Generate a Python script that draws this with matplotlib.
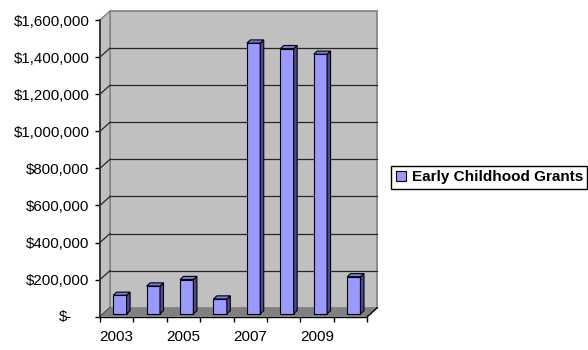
import matplotlib
matplotlib.use("Agg")
import matplotlib.pyplot as plt
import matplotlib.transforms as mtransforms
from matplotlib.patches import Polygon, Rectangle, Patch
from matplotlib.lines import Line2D

# ---- data ----
years = [2003, 2004, 2005, 2006, 2007, 2008, 2009, 2010]
grants = [100000, 150000, 185000, 80000, 1460000, 1430000, 1400000, 200000]
series_name = "Early Childhood Grants"
value_ticks = [0, 200000, 400000, 600000, 800000, 1000000, 1200000, 1400000, 1600000]
labelled_years = ["2003", "2005", "2007", "2009"]

plt.rcParams['font.family'] = ['Liberation Sans', 'DejaVu Sans']

FRONT = '#9999FF'
SIDE = '#4C4C8C'
TOP = '#7A7AD6'
WALL = '#C0C0C0'
FLOOR = '#808080'

W, H = 588, 350
fig = plt.figure(figsize=(W / 100, H / 100), dpi=100)
fig.patch.set_facecolor('white')
ax = fig.add_axes([100 / W, 1 - 316.7 / H, 267.3 / W, 296.7 / H])
ymax = value_ticks[-1]
n = len(years)
ax.set_xlim(-0.5, n - 0.5)
ax.set_ylim(0, ymax)
ax.patch.set_visible(False)

# depth of the 3-D box, expressed in data units (10 px right, 9 px up)
px_per_cat = 267.3 / n
DX = 10 / px_per_cat
DY = 9 * ymax / 296.7
x0, x1 = -0.5, n - 0.5

# back wall
ax.add_patch(Rectangle((x0 + DX, DY), x1 - x0, ymax, facecolor=WALL,
                       edgecolor='#808080', lw=1.2, zorder=0.5, clip_on=False))
# left side wall
ax.add_patch(Polygon([(x0, 0), (x0, ymax), (x0 + DX, ymax + DY), (x0 + DX, DY)],
                     closed=True, facecolor=WALL, edgecolor='#808080', lw=1,
                     zorder=0.6, clip_on=False))
# gridlines on back wall plus their diagonals along the side wall
for v in value_ticks[:-1]:
    if v > 0:
        ax.add_line(Line2D([x0 + DX, x1 + DX], [v + DY, v + DY], color='#262626',
                           lw=0.9, zorder=0.7, clip_on=False))
    ax.add_line(Line2D([x0, x0 + DX], [v, v + DY], color='#262626', lw=0.9,
                       zorder=0.8, clip_on=False))
# floor
ax.add_patch(Polygon([(x0, 0), (x1, 0), (x1 + DX, DY), (x0 + DX, DY)], closed=True,
                     facecolor=FLOOR, edgecolor='none', zorder=0.9, clip_on=False))
ax.add_line(Line2D([x1, x1 + DX], [0, DY], color='black', lw=1, zorder=0.95,
                   clip_on=False))

# bars: front face, side face and top
f0, f1 = 0.32, 0.67
bw = 0.4
fx, fy = f0 * DX, f0 * DY
bx, by = f1 * DX, f1 * DY
xs = list(range(n))
ax.bar([x + fx for x in xs], grants, width=bw, bottom=fy, color=FRONT,
       edgecolor='black', lw=0.8, zorder=3, label=series_name)
for x, v in zip(xs, grants):
    l, r = x - bw / 2, x + bw / 2
    ax.add_patch(Polygon([(r + fx, fy), (r + bx, by), (r + bx, v + by), (r + fx, v + fy)],
                         closed=True, facecolor=SIDE, edgecolor='black', lw=0.8,
                         zorder=3.1, clip_on=False))
    ax.add_patch(Polygon([(l + fx, v + fy), (l + bx, v + by), (r + bx, v + by), (r + fx, v + fy)],
                         closed=True, facecolor=TOP, edgecolor='black', lw=0.8,
                         zorder=3.1, clip_on=False))

# axes lines
for s in ['top', 'right']:
    ax.spines[s].set_visible(False)
ax.spines['left'].set_color('#333333')
ax.spines['left'].set_linewidth(1.3)
ax.spines['bottom'].set_color('black')
ax.spines['bottom'].set_linewidth(1)
for s in ['left', 'bottom']:
    ax.spines[s].set_zorder(2.5)

ax.set_yticks(value_ticks)
ax.set_yticklabels(["" if v == 0 else "${:,.0f}".format(v) for v in value_ticks])
ax.tick_params(axis='y', direction='out', length=3.6, width=1, color='black',
               pad=4.0, labelsize=10.8)
ax.text(x0, 0, "$-", transform=ax.transData +
        mtransforms.ScaledTranslation(-28 / 100, 0, fig.dpi_scale_trans),
        ha='right', va='center', fontsize=10.8)

ax.set_xticks([x - 0.5 for x in range(n + 1)])
ax.set_xticklabels([])
ax.set_xticks([0, 2, 4, 6], minor=True)
ax.set_xticklabels(labelled_years, minor=True)
ax.tick_params(axis='x', which='major', direction='out', length=3.6, width=1,
               color='black')
ax.tick_params(axis='x', which='minor', length=0, pad=9.5, labelsize=11)

leg = ax.legend(handles=[Patch(facecolor=FRONT, edgecolor='black', lw=0.8,
                               label=series_name)],
                loc='center left', bbox_to_anchor=(391 / W, 1 - 177.5 / H),
                bbox_transform=fig.transFigure, frameon=True, fancybox=False,
                edgecolor='black', framealpha=1, prop=dict(weight='bold', size=11),
                handlelength=0.65, handleheight=0.65, handletextpad=0.4,
                borderpad=0.3, borderaxespad=0)
leg.get_frame().set_linewidth(1)

fig.savefig('out.png', dpi=100, facecolor='white')
